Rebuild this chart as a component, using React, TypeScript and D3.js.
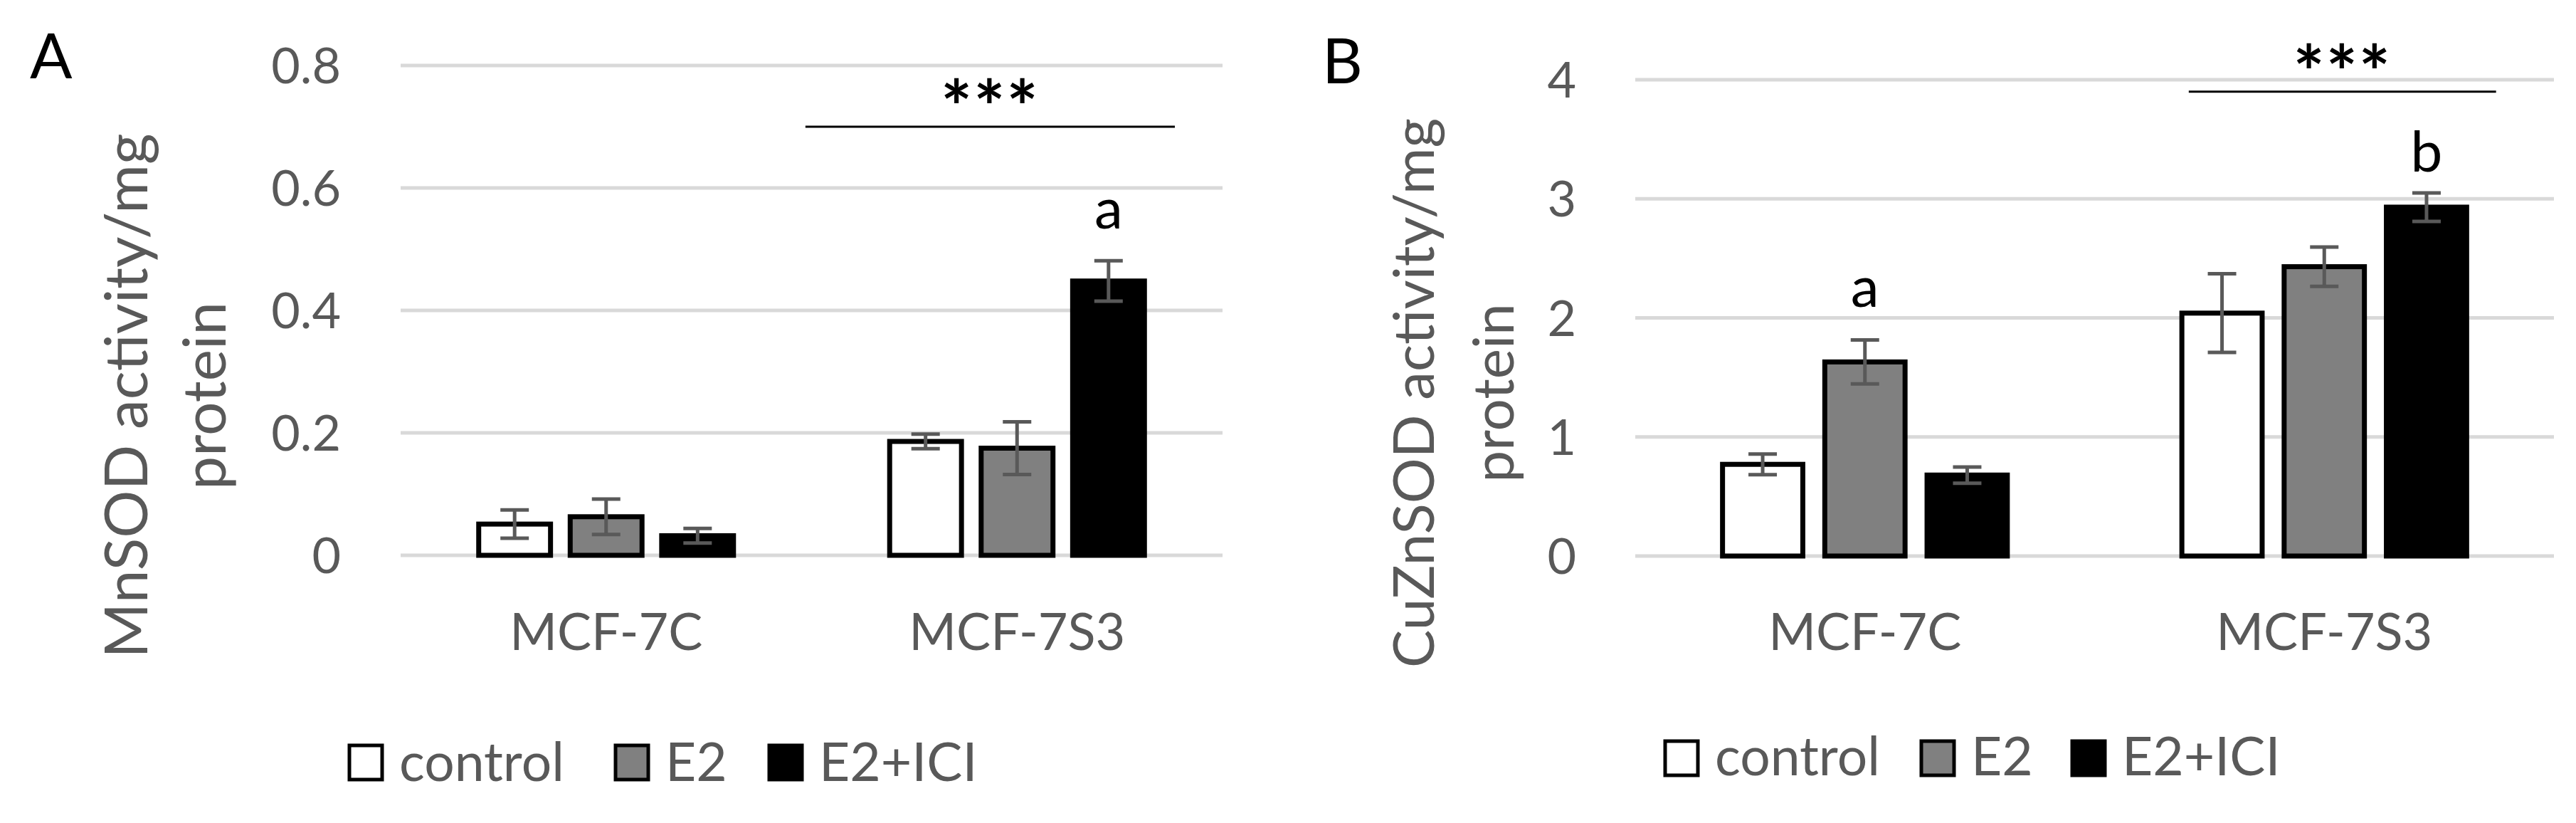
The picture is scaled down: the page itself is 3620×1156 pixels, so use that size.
import { useEffect } from 'react';
import * as d3 from 'd3';

const W = 3620, H = 1156;
const FONT = 'Lato, "Open Sans", sans-serif';
const GRAY = '#595959';

const GROUPS = ['MCF-7C', 'MCF-7S3'];
const TREATMENTS = ['control', 'E2', 'E2+ICI'];
const TREAT_FILL = ['#ffffff', '#808080', '#000000'];

// panel A: MnSOD
const MN_TICKS = [0, 0.2, 0.4, 0.6, 0.8];
const MN_MEAN = [[0.051, 0.063, 0.032], [0.186, 0.175, 0.448]];
const MN_ERR = [[0.023, 0.029, 0.012], [0.012, 0.043, 0.033]];
const MN_LETTERS = [{ group: 1, treat: 2, text: 'a', at: 0.534 }];
const MN_SIG = { group: 1, from: -0.015, to: 0.884, at: 0.70, text: '***' };

// panel B: CuZnSOD
const CU_TICKS = [0, 1, 2, 3, 4];
const CU_MEAN = [[0.77, 1.63, 0.68], [2.04, 2.43, 2.93]];
const CU_ERR = [[0.087, 0.185, 0.068], [0.33, 0.165, 0.12]];
const CU_LETTERS = [
  { group: 0, treat: 1, text: 'a', at: 2.09 },
  { group: 1, treat: 2, text: 'b', at: 3.23 },
];
const CU_SIG = { group: 1, from: 0.205, to: 0.874, at: 3.9, text: '***' };

type Letter = { group: number; treat: number; text: string; at: number };
type Sig = { group: number; from: number; to: number; at: number; text: string };

interface PanelProps {
  tag: string; tagX: number; tagY: number;
  ticks: number[]; mean: number[][]; err: number[][];
  letters: Letter[]; sig: Sig;
  x0: number; x1: number; yBottom: number; yTop: number;
  tickRight: number;
  title: string[]; titleX: number[]; titleY: number; titleSize: number;
  legendX: number; legendOffsets: number[]; legendY: number; legendBase: number;
}

function Panel(p: PanelProps) {
  const yMax = p.ticks[p.ticks.length - 1];
  const y = d3.scaleLinear().domain([0, yMax]).range([p.yBottom, p.yTop]);
  const xg = d3.scaleBand().domain(GROUPS).range([p.x0, p.x1]);
  const band = xg.bandwidth();
  const gw = band * 0.62;
  const xt = d3.scaleBand().domain(TREATMENTS).range([0, gw]).paddingInner(0.215).paddingOuter(0);
  const bw = xt.bandwidth();
  const barX = (g: number, t: number) => xg(GROUPS[g])! + (band - gw) / 2 + xt(TREATMENTS[t])!;
  const cap = 20;

  const sigX1 = xg(GROUPS[p.sig.group])! + p.sig.from * band;
  const sigX2 = xg(GROUPS[p.sig.group])! + p.sig.to * band;

  return (
    <g>
      <text x={p.tagX} y={p.tagY} fontSize={88} fill="#000" fontFamily={FONT}>{p.tag}</text>

      {p.ticks.map(t => (
        <line key={'g' + t} x1={p.x0} x2={p.x1} y1={y(t)} y2={y(t)} stroke="#d9d9d9" strokeWidth={5} />
      ))}
      {p.ticks.map(t => (
        <text key={'t' + t} x={p.tickRight} y={y(t) + 25} textAnchor="end" fontSize={70}
          fill={GRAY} fontFamily={FONT}>{String(t)}</text>
      ))}

      {p.title.map((s, i) => (
        <text key={'ti' + i} transform={`translate(${p.titleX[i]},${p.titleY}) rotate(-90)`}
          textAnchor="middle" fontSize={p.titleSize} fill={GRAY} fontFamily={FONT}>{s}</text>
      ))}

      {p.mean.map((row, g) => row.map((v, t) => (
        <rect key={`b${g}${t}`} x={barX(g, t)} y={y(v)} width={bw} height={y(0) - y(v)}
          fill={TREAT_FILL[t]} stroke="#000" strokeWidth={7} />
      )))}

      {p.mean.map((row, g) => row.map((v, t) => {
        const cx = barX(g, t) + bw / 2;
        const hi = y(v + p.err[g][t]), lo = y(v - p.err[g][t]);
        return (
          <g key={`e${g}${t}`} stroke={GRAY} strokeWidth={5}>
            <line x1={cx} x2={cx} y1={hi} y2={lo} />
            <line x1={cx - cap} x2={cx + cap} y1={hi} y2={hi} />
            <line x1={cx - cap} x2={cx + cap} y1={lo} y2={lo} />
          </g>
        );
      }))}

      {GROUPS.map(gname => (
        <text key={gname} x={xg(gname)! + band / 2} y={913} textAnchor="middle" fontSize={72}
          fill={GRAY} fontFamily={FONT}>{gname}</text>
      ))}

      {p.letters.map((l, i) => (
        <text key={'l' + i} x={barX(l.group, l.treat) + bw / 2} y={y(l.at)} textAnchor="middle"
          fontSize={80} fill="#000" fontFamily={FONT}>{l.text}</text>
      ))}

      <line x1={sigX1} x2={sigX2} y1={y(p.sig.at)} y2={y(p.sig.at)} stroke="#000" strokeWidth={3} />
      <text x={(sigX1 + sigX2) / 2} y={y(p.sig.at) + 10} textAnchor="middle" fontSize={104}
        fontWeight={700} fill="#000" fontFamily={FONT} letterSpacing={2}>{p.sig.text}</text>

      {TREATMENTS.map((name, i) => {
        const lx = p.legendX + p.legendOffsets[i];
        return (
          <g key={'lg' + name}>
            <rect x={lx} y={p.legendY} width={46} height={48} fill={TREAT_FILL[i]} stroke="#000" strokeWidth={5} />
            <text x={lx + 70} y={p.legendBase} fontSize={75} fill={GRAY} fontFamily={FONT}>{name}</text>
          </g>
        );
      })}
    </g>
  );
}

export default function App() {
  useEffect(() => {
    document.body.style.margin = '0';
  }, []);

  return (
    <svg width={W} height={H} viewBox={`0 0 ${W} ${H}`} style={{ display: 'block', background: '#fff' }}>
      <rect width={W} height={H} fill="#fff" />
      <Panel tag="A" tagX={42} tagY={110}
        ticks={MN_TICKS} mean={MN_MEAN} err={MN_ERR} letters={MN_LETTERS} sig={MN_SIG}
        x0={563} x1={1718} yBottom={780} yTop={92} tickRight={479}
        title={['MnSOD activity/mg', 'protein']} titleX={[207, 317]} titleY={556} titleSize={84}
        legendX={491} legendOffsets={[0, 374, 590]} legendY={1047} legendBase={1097} />
      <Panel tag="B" tagX={1858} tagY={117}
        ticks={CU_TICKS} mean={CU_MEAN} err={CU_ERR} letters={CU_LETTERS} sig={CU_SIG}
        x0={2298} x1={3589} yBottom={781} yTop={112} tickRight={2215}
        title={['CuZnSOD activity/mg', 'protein']} titleX={[2015, 2127]} titleY={552} titleSize={80}
        legendX={2340} legendOffsets={[0, 360, 572]} legendY={1041} legendBase={1089} />
    </svg>
  );
}
